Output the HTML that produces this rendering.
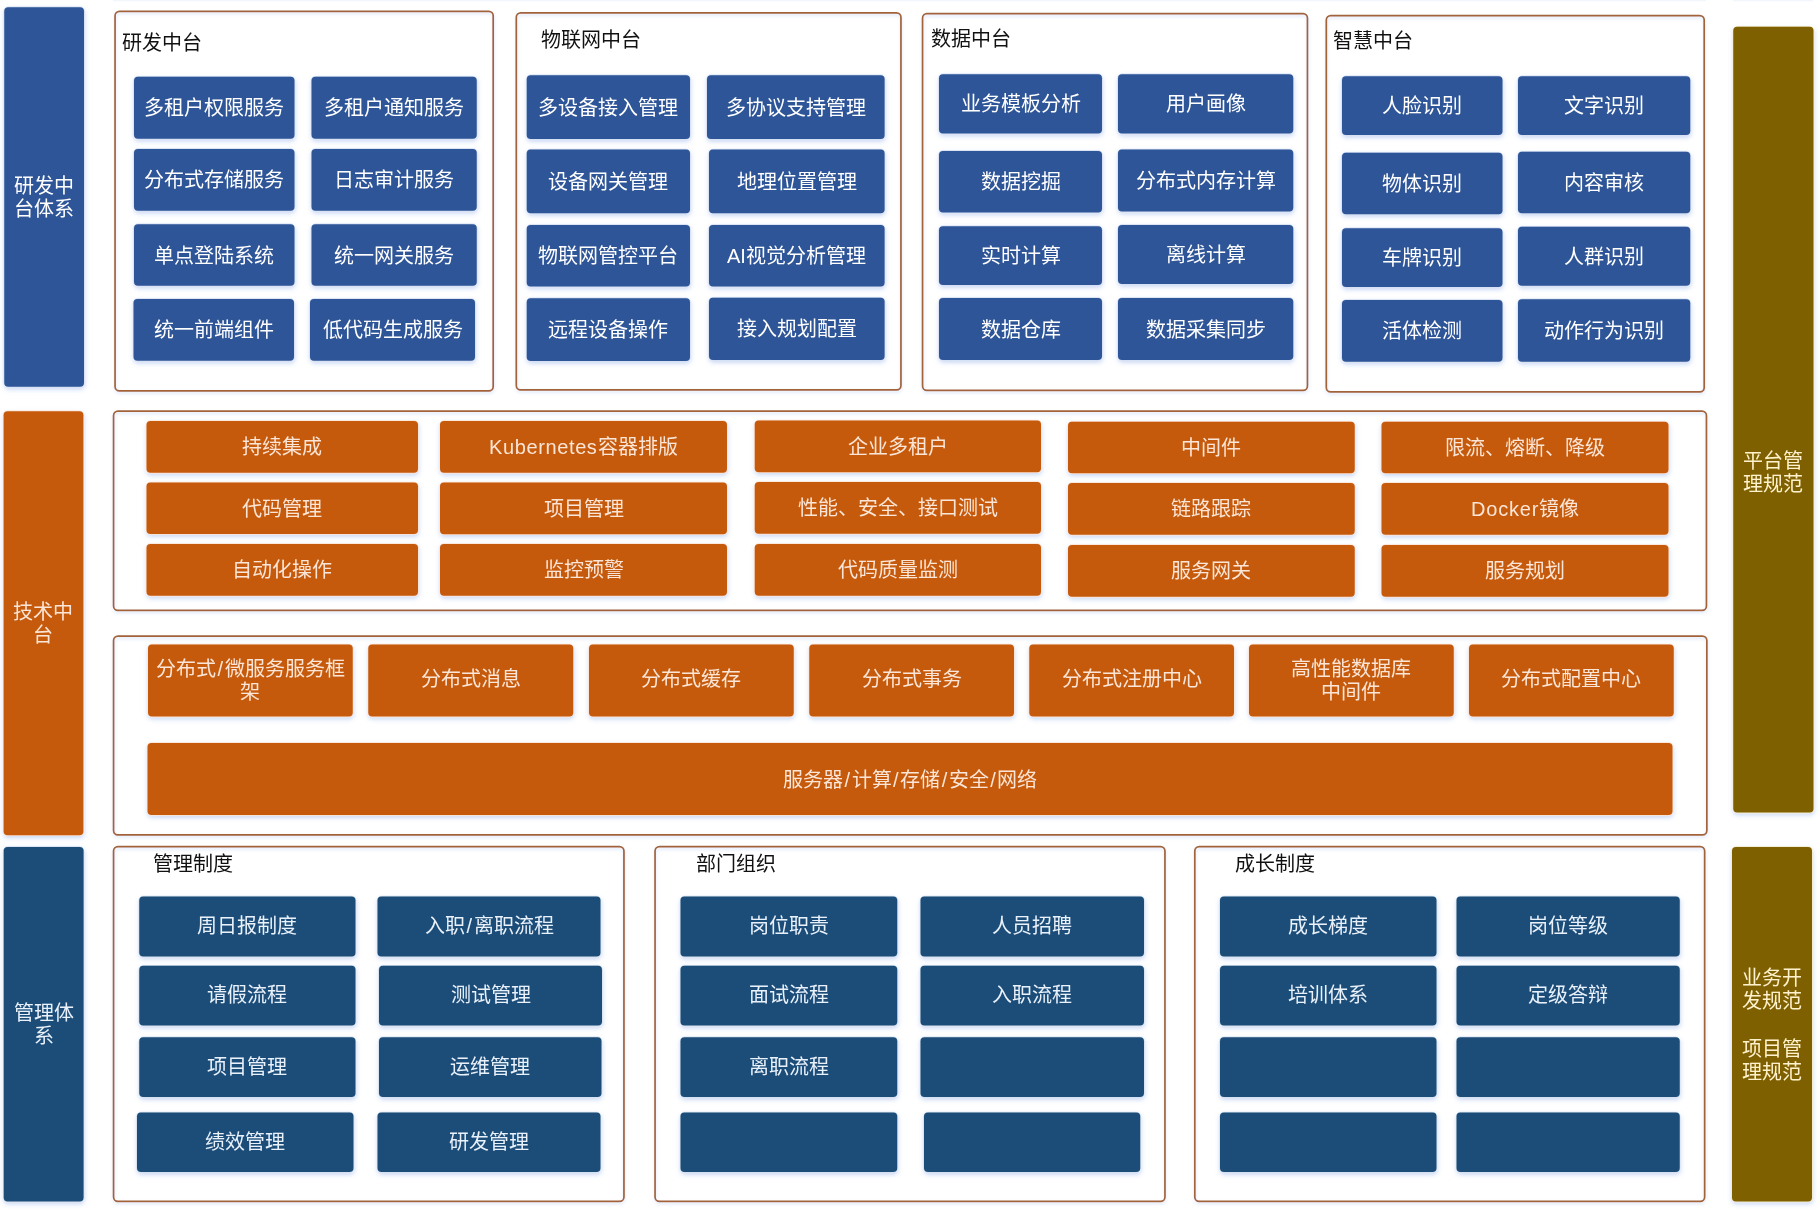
<!DOCTYPE html>
<html lang="zh-CN">
<head>
<meta charset="utf-8">
<title>中台体系架构</title>
<style>
*{margin:0;padding:0;box-sizing:border-box}
html,body{width:1820px;height:1212px;background:#fff;overflow:hidden}
body{position:relative;font-family:"Liberation Sans",sans-serif;font-size:20px;line-height:23px}
svg{position:absolute;left:0;top:0}
.ts{position:absolute;top:0;height:2px;background:linear-gradient(rgba(70,120,220,.09),rgba(70,120,220,0))}
.b{position:absolute;display:flex;align-items:center;justify-content:center;text-align:center;white-space:nowrap}
.b span{display:block;position:relative;top:1px;will-change:transform;font-weight:300}
.db span{top:0}
.db.bar span{top:1px}
.r2 span{top:-1px}
.r2b span{top:0}
.bl{color:#fff}
.or{color:#fbe5d6}
.db{color:#e9f1fa}
.ol{color:#fff2cc}
u{display:block;height:24.6px}
i{font-style:normal;margin:0 1.5px}
em{font-style:normal;letter-spacing:.62px}
em.d{letter-spacing:.8px}
.o1 span{padding-top:105px}
.t{position:absolute;color:#111;line-height:28px;height:28px;white-space:nowrap;will-change:transform}
</style>
</head>
<body>
<svg width="1820" height="1212" viewBox="0 0 1820 1212">
<defs><filter id="sh" x="-1%" y="-1%" width="102%" height="102%"><feDropShadow dx="0.4" dy="2.2" stdDeviation="1.9" flood-color="#4678dc" flood-opacity=".27"/></filter><filter id="sp" x="-1%" y="-1%" width="102%" height="102%"><feDropShadow dx="0.4" dy="2" stdDeviation="1.5" flood-color="#4678dc" flood-opacity=".2"/></filter></defs>
<g filter="url(#sh)" stroke-width="1.5" paint-order="stroke">
<rect x="4.25" y="7.25" width="79.75" height="379.5" rx="4" fill="#2f5597" stroke="#d3def2"/>
<rect x="3.6" y="411.25" width="79.8" height="424.05" rx="4" fill="#c55a11" stroke="#fbe3d2"/>
<rect x="3.7" y="847.1" width="79.9" height="354.4" rx="4" fill="#1f4e79" stroke="#d3e0ee"/>
<rect x="1733.25" y="26.75" width="80.25" height="785.75" rx="4" fill="#7f6000" stroke="#f3e9c8"/>
<rect x="1732" y="847" width="80" height="354.5" rx="4" fill="#7f6000" stroke="#f3e9c8"/>
<rect x="134" y="76.75" width="160.5" height="62" rx="4" fill="#2f5597" stroke="#d3def2"/>
<rect x="311.5" y="76.75" width="165.25" height="62" rx="4" fill="#2f5597" stroke="#d3def2"/>
<rect x="134" y="149" width="160.5" height="61.75" rx="4" fill="#2f5597" stroke="#d3def2"/>
<rect x="311.5" y="149" width="165.25" height="61.75" rx="4" fill="#2f5597" stroke="#d3def2"/>
<rect x="134" y="224.25" width="160.5" height="61.5" rx="4" fill="#2f5597" stroke="#d3def2"/>
<rect x="311.5" y="224.25" width="165.25" height="61.5" rx="4" fill="#2f5597" stroke="#d3def2"/>
<rect x="133.5" y="299" width="160.5" height="61.75" rx="4" fill="#2f5597" stroke="#d3def2"/>
<rect x="310" y="299" width="165" height="61.75" rx="4" fill="#2f5597" stroke="#d3def2"/>
<rect x="526.75" y="75.25" width="163.25" height="63.75" rx="4" fill="#2f5597" stroke="#d3def2"/>
<rect x="707" y="75.25" width="177.6" height="63.75" rx="4" fill="#2f5597" stroke="#d3def2"/>
<rect x="526.75" y="149.5" width="163.25" height="63.75" rx="4" fill="#2f5597" stroke="#d3def2"/>
<rect x="709" y="149.5" width="175.6" height="63.75" rx="4" fill="#2f5597" stroke="#d3def2"/>
<rect x="526.75" y="225" width="163.25" height="61.5" rx="4" fill="#2f5597" stroke="#d3def2"/>
<rect x="709" y="225" width="175.6" height="61.5" rx="4" fill="#2f5597" stroke="#d3def2"/>
<rect x="526.75" y="298.25" width="163.25" height="62.75" rx="4" fill="#2f5597" stroke="#d3def2"/>
<rect x="709" y="297.75" width="175.6" height="62.25" rx="4" fill="#2f5597" stroke="#d3def2"/>
<rect x="939" y="74.25" width="163" height="59.25" rx="4" fill="#2f5597" stroke="#d3def2"/>
<rect x="1118" y="74.25" width="175.25" height="59.25" rx="4" fill="#2f5597" stroke="#d3def2"/>
<rect x="939" y="151" width="163" height="61.5" rx="4" fill="#2f5597" stroke="#d3def2"/>
<rect x="1118" y="149.5" width="175.25" height="62" rx="4" fill="#2f5597" stroke="#d3def2"/>
<rect x="939" y="226.25" width="163" height="58.75" rx="4" fill="#2f5597" stroke="#d3def2"/>
<rect x="1118" y="225" width="175.25" height="59" rx="4" fill="#2f5597" stroke="#d3def2"/>
<rect x="939" y="298" width="163" height="62" rx="4" fill="#2f5597" stroke="#d3def2"/>
<rect x="1118" y="298" width="175.25" height="62" rx="4" fill="#2f5597" stroke="#d3def2"/>
<rect x="1342" y="76.25" width="160.5" height="58.75" rx="4" fill="#2f5597" stroke="#d3def2"/>
<rect x="1518" y="76.25" width="172.25" height="58.75" rx="4" fill="#2f5597" stroke="#d3def2"/>
<rect x="1342" y="152.75" width="160.5" height="61.5" rx="4" fill="#2f5597" stroke="#d3def2"/>
<rect x="1518" y="151.75" width="172.25" height="61.5" rx="4" fill="#2f5597" stroke="#d3def2"/>
<rect x="1342" y="228.25" width="160.5" height="58.75" rx="4" fill="#2f5597" stroke="#d3def2"/>
<rect x="1518" y="226.75" width="172.25" height="59" rx="4" fill="#2f5597" stroke="#d3def2"/>
<rect x="1342" y="300" width="160.5" height="61.75" rx="4" fill="#2f5597" stroke="#d3def2"/>
<rect x="1518" y="299.25" width="172.25" height="62.5" rx="4" fill="#2f5597" stroke="#d3def2"/>
<rect x="146.5" y="421" width="271.5" height="51.75" rx="4" fill="#c55a11" stroke="#fbe3d2"/>
<rect x="146.5" y="482.5" width="271.5" height="51.5" rx="4" fill="#c55a11" stroke="#fbe3d2"/>
<rect x="146.5" y="544" width="271.5" height="51.75" rx="4" fill="#c55a11" stroke="#fbe3d2"/>
<rect x="440" y="421" width="287" height="51.75" rx="4" fill="#c55a11" stroke="#fbe3d2"/>
<rect x="440" y="482.5" width="287" height="51.75" rx="4" fill="#c55a11" stroke="#fbe3d2"/>
<rect x="440" y="544" width="287" height="51.75" rx="4" fill="#c55a11" stroke="#fbe3d2"/>
<rect x="754.75" y="420.5" width="286.25" height="51.75" rx="4" fill="#c55a11" stroke="#fbe3d2"/>
<rect x="754.75" y="482" width="286.25" height="51.75" rx="4" fill="#c55a11" stroke="#fbe3d2"/>
<rect x="754.75" y="544" width="286.25" height="51.75" rx="4" fill="#c55a11" stroke="#fbe3d2"/>
<rect x="1068" y="421.75" width="286.75" height="51.5" rx="4" fill="#c55a11" stroke="#fbe3d2"/>
<rect x="1068" y="483" width="286.75" height="51.75" rx="4" fill="#c55a11" stroke="#fbe3d2"/>
<rect x="1068" y="545" width="286.75" height="51.75" rx="4" fill="#c55a11" stroke="#fbe3d2"/>
<rect x="1381.5" y="421.75" width="287" height="51.5" rx="4" fill="#c55a11" stroke="#fbe3d2"/>
<rect x="1381.5" y="483" width="287" height="51.75" rx="4" fill="#c55a11" stroke="#fbe3d2"/>
<rect x="1381.5" y="545" width="287" height="51.75" rx="4" fill="#c55a11" stroke="#fbe3d2"/>
<rect x="148" y="644.5" width="204.75" height="72" rx="4" fill="#c55a11" stroke="#fbe3d2"/>
<rect x="368.25" y="644.5" width="205" height="72" rx="4" fill="#c55a11" stroke="#fbe3d2"/>
<rect x="589" y="644.5" width="204.75" height="72" rx="4" fill="#c55a11" stroke="#fbe3d2"/>
<rect x="809.25" y="644.5" width="204.75" height="72" rx="4" fill="#c55a11" stroke="#fbe3d2"/>
<rect x="1029.25" y="644.5" width="204.75" height="72" rx="4" fill="#c55a11" stroke="#fbe3d2"/>
<rect x="1249" y="644.5" width="204.75" height="72" rx="4" fill="#c55a11" stroke="#fbe3d2"/>
<rect x="1469" y="644.5" width="204.75" height="72" rx="4" fill="#c55a11" stroke="#fbe3d2"/>
<rect x="147.5" y="743" width="1525" height="72" rx="4" fill="#c55a11" stroke="#fbe3d2"/>
<rect x="139.25" y="896.5" width="216.25" height="60" rx="4" fill="#1f4e79" stroke="#d3e0ee"/>
<rect x="377.5" y="896.5" width="223" height="60" rx="4" fill="#1f4e79" stroke="#d3e0ee"/>
<rect x="139.25" y="965.75" width="216.25" height="59.75" rx="4" fill="#1f4e79" stroke="#d3e0ee"/>
<rect x="379" y="965.75" width="223" height="59.75" rx="4" fill="#1f4e79" stroke="#d3e0ee"/>
<rect x="139.25" y="1037.25" width="216.25" height="59.75" rx="4" fill="#1f4e79" stroke="#d3e0ee"/>
<rect x="379" y="1037.25" width="222.5" height="59.75" rx="4" fill="#1f4e79" stroke="#d3e0ee"/>
<rect x="137" y="1112.5" width="216.5" height="59.5" rx="4" fill="#1f4e79" stroke="#d3e0ee"/>
<rect x="377.5" y="1112.5" width="223" height="59.5" rx="4" fill="#1f4e79" stroke="#d3e0ee"/>
<rect x="680.5" y="896.5" width="216.75" height="60" rx="4" fill="#1f4e79" stroke="#d3e0ee"/>
<rect x="920.5" y="896.5" width="223.5" height="60" rx="4" fill="#1f4e79" stroke="#d3e0ee"/>
<rect x="680.5" y="965.75" width="216.75" height="59.75" rx="4" fill="#1f4e79" stroke="#d3e0ee"/>
<rect x="920.5" y="965.75" width="223.5" height="59.75" rx="4" fill="#1f4e79" stroke="#d3e0ee"/>
<rect x="680.5" y="1037.25" width="216.75" height="59.75" rx="4" fill="#1f4e79" stroke="#d3e0ee"/>
<rect x="920.5" y="1037.25" width="223.5" height="59.75" rx="4" fill="#1f4e79" stroke="#d3e0ee"/>
<rect x="680.5" y="1112.5" width="216.75" height="59.5" rx="4" fill="#1f4e79" stroke="#d3e0ee"/>
<rect x="924" y="1112.5" width="216.25" height="59.5" rx="4" fill="#1f4e79" stroke="#d3e0ee"/>
<rect x="1220" y="896.5" width="216.5" height="60" rx="4" fill="#1f4e79" stroke="#d3e0ee"/>
<rect x="1456.5" y="896.5" width="223.25" height="60" rx="4" fill="#1f4e79" stroke="#d3e0ee"/>
<rect x="1220" y="965.75" width="216.5" height="59.75" rx="4" fill="#1f4e79" stroke="#d3e0ee"/>
<rect x="1456.5" y="965.75" width="223.25" height="59.75" rx="4" fill="#1f4e79" stroke="#d3e0ee"/>
<rect x="1220" y="1037.25" width="216.5" height="59.75" rx="4" fill="#1f4e79" stroke="#d3e0ee"/>
<rect x="1456.5" y="1037.25" width="223.25" height="59.75" rx="4" fill="#1f4e79" stroke="#d3e0ee"/>
<rect x="1220" y="1112.5" width="216.5" height="59.5" rx="4" fill="#1f4e79" stroke="#d3e0ee"/>
<rect x="1456.5" y="1112.5" width="223.25" height="59.5" rx="4" fill="#1f4e79" stroke="#d3e0ee"/>
</g>
<g filter="url(#sp)" fill="none" stroke="#a2633a" stroke-width="1.7">
<rect x="115.05" y="11.3" width="378.15" height="379.65" rx="4.4"/>
<rect x="516.3" y="12.85" width="384.65" height="377" rx="4.4"/>
<rect x="922.55" y="13.55" width="384.9" height="376.9" rx="4.4"/>
<rect x="1326.3" y="15.55" width="377.9" height="376.4" rx="4.4"/>
<rect x="113.55" y="411.05" width="1592.9" height="199.4" rx="4.4"/>
<rect x="113.55" y="636.05" width="1593.3" height="198.9" rx="4.4"/>
<rect x="113.55" y="846.65" width="510.4" height="354.8" rx="4.4"/>
<rect x="655.05" y="846.65" width="509.9" height="354.8" rx="4.4"/>
<rect x="1194.8" y="846.65" width="509.85" height="354.8" rx="4.4"/>
</g>
</svg>
<div class="ts" style="left:113px;width:1593px"></div><div class="ts" style="left:1733px;width:80px"></div>
<div class="b bl bar" style="left:4.25px;top:7.25px;width:79.75px;height:379.5px"><span>研发中<br>台体系</span></div>
<div class="b or bar" style="left:3.6px;top:411.25px;width:79.8px;height:424.05px"><span>技术中<br>台</span></div>
<div class="b db bar" style="left:3.7px;top:847.1px;width:79.9px;height:354.4px"><span>管理体<br>系</span></div>
<div class="b ol bar o1" style="left:1733.25px;top:26.75px;width:80.25px;height:785.75px"><span>平台管<br>理规范</span></div>
<div class="b ol bar" style="left:1732px;top:847px;width:80px;height:354.5px"><span>业务开<br>发规范<u></u>项目管<br>理规范</span></div>
<div class="t" style="left:122px;top:29px">研发中台</div>
<div class="t" style="left:541.25px;top:26.25px">物联网中台</div>
<div class="t" style="left:931px;top:25.25px">数据中台</div>
<div class="t" style="left:1333px;top:27px">智慧中台</div>
<div class="b bl" style="left:134px;top:76.75px;width:160.5px;height:62px"><span>多租户权限服务</span></div>
<div class="b bl" style="left:311.5px;top:76.75px;width:165.25px;height:62px"><span>多租户通知服务</span></div>
<div class="b bl" style="left:134px;top:149px;width:160.5px;height:61.75px"><span>分布式存储服务</span></div>
<div class="b bl" style="left:311.5px;top:149px;width:165.25px;height:61.75px"><span>日志审计服务</span></div>
<div class="b bl" style="left:134px;top:224.25px;width:160.5px;height:61.5px"><span>单点登陆系统</span></div>
<div class="b bl" style="left:311.5px;top:224.25px;width:165.25px;height:61.5px"><span>统一网关服务</span></div>
<div class="b bl" style="left:133.5px;top:299px;width:160.5px;height:61.75px"><span>统一前端组件</span></div>
<div class="b bl" style="left:310px;top:299px;width:165px;height:61.75px"><span>低代码生成服务</span></div>
<div class="b bl" style="left:526.75px;top:75.25px;width:163.25px;height:63.75px"><span>多设备接入管理</span></div>
<div class="b bl" style="left:707px;top:75.25px;width:177.6px;height:63.75px"><span>多协议支持管理</span></div>
<div class="b bl" style="left:526.75px;top:149.5px;width:163.25px;height:63.75px"><span>设备网关管理</span></div>
<div class="b bl" style="left:709px;top:149.5px;width:175.6px;height:63.75px"><span>地理位置管理</span></div>
<div class="b bl" style="left:526.75px;top:225px;width:163.25px;height:61.5px"><span>物联网管控平台</span></div>
<div class="b bl" style="left:709px;top:225px;width:175.6px;height:61.5px"><span>AI视觉分析管理</span></div>
<div class="b bl" style="left:526.75px;top:298.25px;width:163.25px;height:62.75px"><span>远程设备操作</span></div>
<div class="b bl" style="left:709px;top:297.75px;width:175.6px;height:62.25px"><span>接入规划配置</span></div>
<div class="b bl" style="left:939px;top:74.25px;width:163px;height:59.25px"><span>业务模板分析</span></div>
<div class="b bl" style="left:1118px;top:74.25px;width:175.25px;height:59.25px"><span>用户画像</span></div>
<div class="b bl" style="left:939px;top:151px;width:163px;height:61.5px"><span>数据挖掘</span></div>
<div class="b bl" style="left:1118px;top:149.5px;width:175.25px;height:62px"><span>分布式内存计算</span></div>
<div class="b bl" style="left:939px;top:226.25px;width:163px;height:58.75px"><span>实时计算</span></div>
<div class="b bl" style="left:1118px;top:225px;width:175.25px;height:59px"><span>离线计算</span></div>
<div class="b bl" style="left:939px;top:298px;width:163px;height:62px"><span>数据仓库</span></div>
<div class="b bl" style="left:1118px;top:298px;width:175.25px;height:62px"><span>数据采集同步</span></div>
<div class="b bl" style="left:1342px;top:76.25px;width:160.5px;height:58.75px"><span>人脸识别</span></div>
<div class="b bl" style="left:1518px;top:76.25px;width:172.25px;height:58.75px"><span>文字识别</span></div>
<div class="b bl" style="left:1342px;top:152.75px;width:160.5px;height:61.5px"><span>物体识别</span></div>
<div class="b bl" style="left:1518px;top:151.75px;width:172.25px;height:61.5px"><span>内容审核</span></div>
<div class="b bl" style="left:1342px;top:228.25px;width:160.5px;height:58.75px"><span>车牌识别</span></div>
<div class="b bl" style="left:1518px;top:226.75px;width:172.25px;height:59px"><span>人群识别</span></div>
<div class="b bl" style="left:1342px;top:300px;width:160.5px;height:61.75px"><span>活体检测</span></div>
<div class="b bl" style="left:1518px;top:299.25px;width:172.25px;height:62.5px"><span>动作行为识别</span></div>
<div class="b or" style="left:146.5px;top:421px;width:271.5px;height:51.75px"><span>持续集成</span></div>
<div class="b or" style="left:146.5px;top:482.5px;width:271.5px;height:51.5px"><span>代码管理</span></div>
<div class="b or" style="left:146.5px;top:544px;width:271.5px;height:51.75px"><span>自动化操作</span></div>
<div class="b or" style="left:440px;top:421px;width:287px;height:51.75px"><span><em>Kubernetes</em>容器排版</span></div>
<div class="b or" style="left:440px;top:482.5px;width:287px;height:51.75px"><span>项目管理</span></div>
<div class="b or" style="left:440px;top:544px;width:287px;height:51.75px"><span>监控预警</span></div>
<div class="b or" style="left:754.75px;top:420.5px;width:286.25px;height:51.75px"><span>企业多租户</span></div>
<div class="b or" style="left:754.75px;top:482px;width:286.25px;height:51.75px"><span>性能、安全、接口测试</span></div>
<div class="b or" style="left:754.75px;top:544px;width:286.25px;height:51.75px"><span>代码质量监测</span></div>
<div class="b or" style="left:1068px;top:421.75px;width:286.75px;height:51.5px"><span>中间件</span></div>
<div class="b or" style="left:1068px;top:483px;width:286.75px;height:51.75px"><span>链路跟踪</span></div>
<div class="b or" style="left:1068px;top:545px;width:286.75px;height:51.75px"><span>服务网关</span></div>
<div class="b or" style="left:1381.5px;top:421.75px;width:287px;height:51.5px"><span>限流、熔断、降级</span></div>
<div class="b or" style="left:1381.5px;top:483px;width:287px;height:51.75px"><span><em class=d>Docker</em>镜像</span></div>
<div class="b or" style="left:1381.5px;top:545px;width:287px;height:51.75px"><span>服务规划</span></div>
<div class="b or r2b" style="left:148px;top:644.5px;width:204.75px;height:72px"><span>分布式<i>/</i>微服务服务框<br>架</span></div>
<div class="b or r2" style="left:368.25px;top:644.5px;width:205px;height:72px"><span>分布式消息</span></div>
<div class="b or r2" style="left:589px;top:644.5px;width:204.75px;height:72px"><span>分布式缓存</span></div>
<div class="b or r2" style="left:809.25px;top:644.5px;width:204.75px;height:72px"><span>分布式事务</span></div>
<div class="b or r2" style="left:1029.25px;top:644.5px;width:204.75px;height:72px"><span>分布式注册中心</span></div>
<div class="b or r2b" style="left:1249px;top:644.5px;width:204.75px;height:72px"><span>高性能数据库<br>中间件</span></div>
<div class="b or r2" style="left:1469px;top:644.5px;width:204.75px;height:72px"><span>分布式配置中心</span></div>
<div class="b or" style="left:147.5px;top:743px;width:1525px;height:72px"><span>服务器<i>/</i>计算<i>/</i>存储<i>/</i>安全<i>/</i>网络</span></div>
<div class="t" style="left:152.5px;top:850px">管理制度</div>
<div class="t" style="left:695.5px;top:850px">部门组织</div>
<div class="t" style="left:1234.5px;top:850px">成长制度</div>
<div class="b db" style="left:139.25px;top:896.5px;width:216.25px;height:60px"><span>周日报制度</span></div>
<div class="b db" style="left:377.5px;top:896.5px;width:223px;height:60px"><span>入职<i>/</i>离职流程</span></div>
<div class="b db" style="left:139.25px;top:965.75px;width:216.25px;height:59.75px"><span>请假流程</span></div>
<div class="b db" style="left:379px;top:965.75px;width:223px;height:59.75px"><span>测试管理</span></div>
<div class="b db" style="left:139.25px;top:1037.25px;width:216.25px;height:59.75px"><span>项目管理</span></div>
<div class="b db" style="left:379px;top:1037.25px;width:222.5px;height:59.75px"><span>运维管理</span></div>
<div class="b db" style="left:137px;top:1112.5px;width:216.5px;height:59.5px"><span>绩效管理</span></div>
<div class="b db" style="left:377.5px;top:1112.5px;width:223px;height:59.5px"><span>研发管理</span></div>
<div class="b db" style="left:680.5px;top:896.5px;width:216.75px;height:60px"><span>岗位职责</span></div>
<div class="b db" style="left:920.5px;top:896.5px;width:223.5px;height:60px"><span>人员招聘</span></div>
<div class="b db" style="left:680.5px;top:965.75px;width:216.75px;height:59.75px"><span>面试流程</span></div>
<div class="b db" style="left:920.5px;top:965.75px;width:223.5px;height:59.75px"><span>入职流程</span></div>
<div class="b db" style="left:680.5px;top:1037.25px;width:216.75px;height:59.75px"><span>离职流程</span></div>
<div class="b db" style="left:1220px;top:896.5px;width:216.5px;height:60px"><span>成长梯度</span></div>
<div class="b db" style="left:1456.5px;top:896.5px;width:223.25px;height:60px"><span>岗位等级</span></div>
<div class="b db" style="left:1220px;top:965.75px;width:216.5px;height:59.75px"><span>培训体系</span></div>
<div class="b db" style="left:1456.5px;top:965.75px;width:223.25px;height:59.75px"><span>定级答辩</span></div>
</body>
</html>
